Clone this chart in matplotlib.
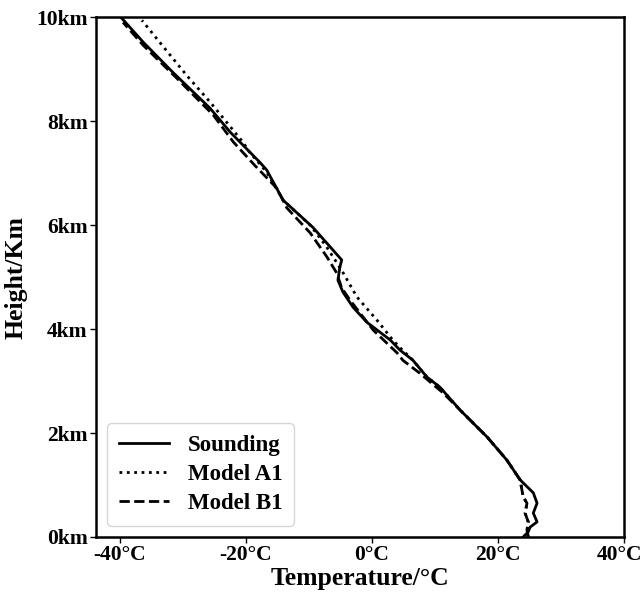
import matplotlib.pyplot as plt
import matplotlib.transforms as mtransforms

plt.rcParams['font.family'] = ['Liberation Serif', 'DejaVu Serif']
plt.rcParams['font.weight'] = 'bold'

# sounding profile (temperature degC, height km)
snd_t = [24.0, 24.8, 25.1, 26.2, 25.6, 26.2, 25.6, 23.5, 21.4, 18.3, 14.0, 10.8,
         8.7, 6.5, 4.4, 2.9, -0.8, -3.0, -4.6, -5.4, -5.1, -4.8, -9.4, -14.1,
         -16.7, -17.8, -22.5, -25.7, -31.6, -36.3, -39.7]
snd_h = [0.00, 0.10, 0.19, 0.29, 0.46, 0.65, 0.85, 1.10, 1.48, 1.92, 2.44, 2.88,
         3.08, 3.40, 3.60, 3.79, 4.13, 4.42, 4.71, 4.94, 5.19, 5.33, 5.96, 6.48,
         7.06, 7.21, 7.79, 8.25, 8.94, 9.52, 9.98]

# model A1
a1_t = [24.8, 24.6, 24.8, 24.3, 24.6, 24.0, 23.5, 21.4, 18.3, 14.0, 10.8, 8.7,
        6.5, 4.4, 3.3, 0.8, -2.4, -4.8, -7.3, -9.8, -14.1, -16.7, -19.4, -20.5,
        -25.7, -29.4, -33.7, -36.5]
a1_h = [0.00, 0.13, 0.29, 0.46, 0.65, 0.77, 1.10, 1.48, 1.92, 2.44, 2.88, 3.08,
        3.40, 3.65, 3.79, 4.17, 4.62, 5.13, 5.60, 6.00, 6.48, 7.02, 7.40, 7.60,
        8.37, 8.88, 9.52, 9.94]

# model B1
b1_t = [24.8, 24.6, 24.8, 24.3, 24.6, 24.0, 23.5, 21.4, 18.3, 14.0, 11.3, 7.6,
        4.9, 4.0, 0.2, -3.5, -4.8, -5.6, -7.1, -9.8, -13.5, -15.1, -18.6, -22.0,
        -25.2, -31.0, -36.3, -39.5]
b1_h = [0.00, 0.13, 0.29, 0.46, 0.65, 0.77, 1.10, 1.48, 1.92, 2.44, 2.77, 3.15,
        3.40, 3.54, 3.98, 4.56, 4.79, 5.08, 5.38, 5.85, 6.33, 6.71, 7.15, 7.60,
        8.12, 8.83, 9.46, 9.90]

x_ticks = [-40, -20, 0, 20, 40]
y_ticks = [0, 2, 4, 6, 8, 10]

fig = plt.figure(figsize=(6.44, 5.94), dpi=100)
ax = fig.add_axes([0.149, 0.096, 0.82, 0.875])

ax.plot(snd_t, snd_h, color='black', linestyle='-', linewidth=2, label='Sounding')
ax.plot(a1_t, a1_h, color='black', linestyle=':', linewidth=2, label='Model A1')
ax.plot(b1_t, b1_h, color='black', linestyle='--', linewidth=2, label='Model B1')

ax.set_xlim(-43.8, 40)
ax.set_ylim(0, 10)
ax.set_xticks(x_ticks)
ax.set_xticklabels([f'{t}°C' for t in x_ticks])
ax.set_yticks(y_ticks)
ax.set_yticklabels([f'{h}km' for h in y_ticks])
ax.tick_params(labelsize=15.5, width=1, length=4, pad=2)
for s in ax.spines.values():
    s.set_linewidth(1.8)

# nudge the last x tick label so it stays inside the figure
last = ax.get_xticklabels()[-1]
last.set_transform(last.get_transform() +
                   mtransforms.ScaledTranslation(-3 / 72, 0, fig.dpi_scale_trans))

ax.set_xlabel('Temperature/°C', fontsize=18.5, fontweight='bold', labelpad=1)
ax.set_ylabel('Height/Km', fontsize=18.5, fontweight='bold', labelpad=6)

ax.legend(loc='lower left', handlelength=2.2, borderpad=0.5, labelspacing=0.35,
          prop={'weight': 'bold', 'size': 16.5})

fig.savefig('out.png', dpi=100)
